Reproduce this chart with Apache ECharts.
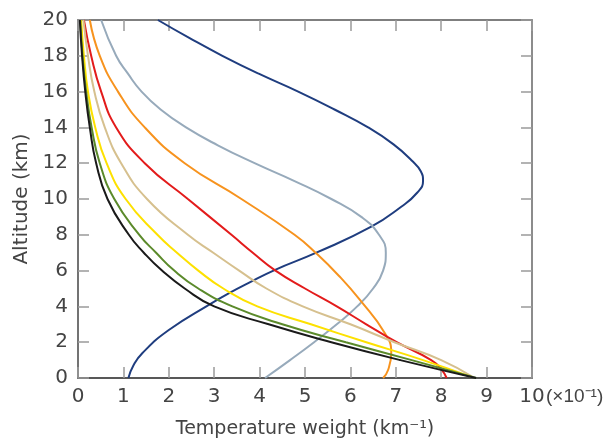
<!DOCTYPE html>
<html>
<head>
<meta charset="utf-8">
<script src="https://cdn.jsdelivr.net/npm/echarts@6/dist/echarts.min.js"></script>
<style>
  html, body { margin: 0; padding: 0; background: #fff; }
  #chart { width: 605px; height: 442px; }
</style>
</head>
<body>
<div id="chart"></div>
<script>
// weighting functions, [weight (x10^-1 km^-1), altitude (km)], bottom to top
const black = [[8.77,0],[7.1,1],[5.58,2],[4.2,3],[3.0,4],[2.35,5],[1.85,6],[1.45,7],[1.12,8],[0.65,10],[0.4,12],[0.26,14],[0.16,16],[0.09,18],[0.04,20]];
const green = [[8.77,0],[7.35,1],[5.9,2],[4.5,3],[3.4,4],[2.65,5],[2.12,6],[1.72,7],[1.35,8],[0.8,10],[0.48,12],[0.3,14],[0.18,16],[0.1,18],[0.05,20]];
const yellow = [[8.65,0.08],[7.6,1],[6.35,2],[5.13,3],[3.95,4],[3.2,5],[2.65,6],[2.18,7],[1.75,8],[1.05,10],[0.63,12],[0.38,14],[0.22,16],[0.13,18],[0.07,20]];
const tan = [[8.7,0.05],[8.0,1],[6.97,2],[6.0,3],[4.95,4],[4.15,5],[3.55,6],[2.98,7],[2.42,8],[1.52,10],[0.95,12],[0.59,14],[0.36,16],[0.22,18],[0.12,20]];
const red = [[8.12,0],[8.0,0.5],[7.78,1],[7.02,2],[6.35,3],[5.7,4],[5.0,5],[4.35,6],[3.85,7],[3.38,8],[2.42,10],[1.47,12],[0.84,14],[0.51,16],[0.29,18],[0.13,20]];
const orange = [[6.72,0],[6.83,0.45],[6.9,1.4],[6.76,2.5],[6.21,4.36],[5.75,5.7],[5.25,6.96],[4.77,8],[3.6,10],[2.35,12],[1.47,14],[0.88,16],[0.48,18],[0.26,20]];
const gray = [[4.12,0],[4.67,1],[5.2,2],[5.7,3],[6.15,4],[6.5,5],[6.72,6],[6.78,7],[6.63,8],[6.24,9],[5.58,10],[4.77,11],[3.89,12],[3.08,13],[2.38,14],[1.82,15],[1.4,16],[1.1,17],[0.84,18],[0.51,20]];
const navy = [[1.11,0],[1.22,0.7],[1.42,1.4],[2.0,2.68],[2.91,4.13],[3.35,4.77],[3.75,5.3],[4.33,6.03],[5.25,7.0],[6.46,8.45],[7.12,9.57],[7.47,10.35],[7.6,11.0],[7.55,11.55],[7.35,12.15],[6.95,13.05],[6.39,14],[5.65,15],[4.85,16],[3.98,17],[3.18,18],[2.45,19.0],[1.76,20]];

const xTicks = [0, 1, 2, 3, 4, 5, 6, 7, 8, 9, 10];
const yTicks = [0, 2, 4, 6, 8, 10, 12, 14, 16, 18, 20];

const curves = [
  { name: 'navy', data: navy, color: '#1f3d7f' },
  { name: 'gray', data: gray, color: '#97aabb' },
  { name: 'orange', data: orange, color: '#f7931e' },
  { name: 'red', data: red, color: '#e31b1b' },
  { name: 'tan', data: tan, color: '#d6c08e' },
  { name: 'yellow', data: yellow, color: '#fde100' },
  { name: 'green', data: green, color: '#5b8a2b' },
  { name: 'black', data: black, color: '#1a1a1a' }
];

const font = 'DejaVu Sans';
const textColor = '#444';

const chart = echarts.init(document.getElementById('chart'));

const ticks = () => ({ show: true, inside: true, length: 11, lineStyle: { color: '#9a9a9a', width: 1.5 } });

chart.setOption({
  animation: false,
  grid: { left: 78, right: 73, top: 20, bottom: 64, containLabel: false, outerBoundsMode: 'none' },
  xAxis: [
    {
      type: 'value', min: 0, max: 10, interval: 1, position: 'bottom',
      name: 'Temperature weight (km\u207B\u00B9)', nameLocation: 'middle', nameGap: 42,
      nameTextStyle: { fontFamily: font, fontSize: 19, color: textColor },
      axisLine: { onZero: false, lineStyle: { color: '#222', width: 1.5 } },
      axisTick: ticks(),
      axisLabel: { fontFamily: font, fontSize: 20, color: textColor, margin: 9,
        formatter: v => xTicks.includes(v) ? String(v) : '' },
      splitLine: { show: false }
    },
    {
      type: 'value', min: 0, max: 10, interval: 1, position: 'top',
      axisLine: { onZero: false, lineStyle: { color: '#555', width: 1.5 } },
      axisTick: ticks(), axisLabel: { show: false }, splitLine: { show: false }
    }
  ],
  yAxis: [
    {
      type: 'value', min: 0, max: 20, interval: 2, position: 'left',
      name: 'Altitude (km)', nameLocation: 'middle', nameGap: 46,
      nameTextStyle: { fontFamily: font, fontSize: 20, color: textColor },
      axisLine: { onZero: false, lineStyle: { color: '#444', width: 1.5 } },
      axisTick: ticks(),
      axisLabel: { fontFamily: font, fontSize: 20, color: textColor, margin: 10,
        formatter: v => yTicks.includes(v) ? String(v) : '' },
      splitLine: { show: false }
    },
    {
      type: 'value', min: 0, max: 20, interval: 2, position: 'right',
      axisLine: { onZero: false, lineStyle: { color: '#666', width: 1.5 } },
      axisTick: ticks(), axisLabel: { show: false }, splitLine: { show: false }
    }
  ],
  graphic: [{
    type: 'text', left: 546, top: 387,
    style: { text: '(\u00D710\u207B\u00B9)', font: '19px "Liberation Sans"', fill: textColor }
  }],
  series: curves.map(c => ({
    name: c.name,
    type: 'line',
    xAxisIndex: 0,
    yAxisIndex: 0,
    data: c.data,
    smooth: 0.5,
    smoothMonotone: 'none',
    showSymbol: false,
    lineStyle: { color: c.color, width: 2 },
    z: 3
  }))
});
</script>
</body>
</html>
